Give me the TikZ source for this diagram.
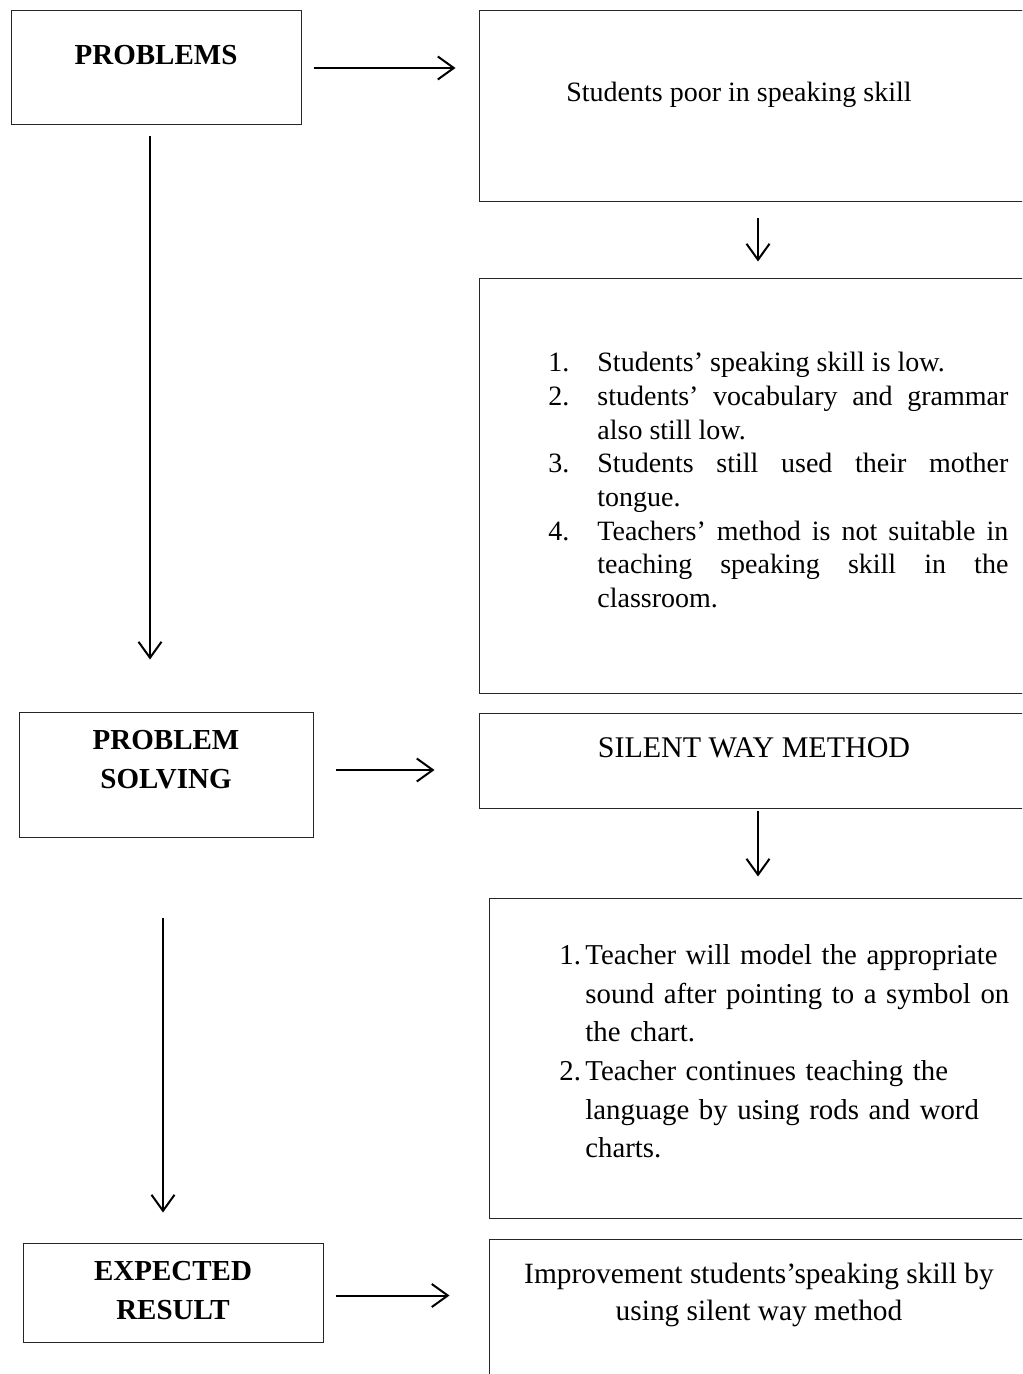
\documentclass[tikz,border=0pt]{standalone}
\usepackage{fontspec}
\setmainfont{Liberation Serif}
\usepackage{enumitem}
\usetikzlibrary{arrows.meta}
\tikzset{
  box/.style={draw=black!85,line width=0.5pt,inner sep=0pt},
  head/.style={font=\fontsize{14.5}{19.5}\selectfont\bfseries,align=center,inner sep=0pt},
  plain/.style={font=\fontsize{14}{18.5}\selectfont,align=center,inner sep=0pt},
  flow/.style={->,line width=1pt}
}
\begin{document}
\begin{tikzpicture}[x=0.5pt,y=-0.5pt,>={Straight Barb[length=8pt,width=11.5pt]}]
   \useasboundingbox (0,0) rectangle (1022,1374);
   \clip (0,0) rectangle (1022,1374);
   %boxes left
   \node[box,minimum width=145pt,minimum height=57pt] (prob) at (156,68) {};
   \node[box,minimum width=147pt,minimum height=62.5pt] (solve) at (166,774.5) {};
   \node[box,minimum width=150pt,minimum height=49.5pt] (result) at (173,1292.5) {};
   %boxes right
   \node[box,minimum width=279pt,minimum height=95.5pt] (poor) at (758,106.5) {};
   \node[box,minimum width=279pt,minimum height=207pt] (cause) at (758,486) {};
   \node[box,minimum width=279pt,minimum height=47.5pt] (silent) at (758,760.5) {};
   \node[box,minimum width=269pt,minimum height=160pt] (steps) at (758,1058) {};
   \node[box,minimum width=269pt,minimum height=90.5pt] (improve) at (758,1329.5) {};
   %headings
   \node[head,anchor=base] (probtext) at (156,65) {PROBLEMS};
   \node[head] (solvetext) at (166,760) {PROBLEM\\SOLVING};
   \node[head] (resulttext) at (173,1291) {EXPECTED\\RESULT};
   %texts
   \node[plain,anchor=base] (poortext) at (739,102) {Students poor in speaking skill};
   \node[plain,anchor=base,font=\fontsize{15}{18.5}\selectfont] (silenttext) at (754,757) {SILENT WAY METHOD};
   \node[plain,font=\fontsize{14.7}{18.5}\selectfont] (improvetext) at (759,1295) {Improvement students’speaking skill by\\using silent way method};
   %lists
   \node[inner sep=0pt,text width=230pt,align=justify,anchor=base west,
         font=\fontsize{14}{16.85}\selectfont] (causetext) at (548,338) {%
      \begin{enumerate}[nosep,leftmargin=24.5pt,labelwidth=12pt,labelsep=12.5pt,align=left]
      \item Students’ speaking skill is low.
      \item students’ vocabulary and grammar\linebreak also still low.
      \item Students still used their mother\linebreak tongue.
      \item Teachers’ method is not suitable in\linebreak teaching speaking skill in the\linebreak classroom.
      \end{enumerate}};
   \node[inner sep=0pt,text width=230pt,align=left,anchor=base west,
         font=\fontsize{14.4}{19.3}\selectfont] (stepstext) at (559,926) {%
      \begin{enumerate}[nosep,leftmargin=13pt,labelwidth=10.8pt,labelsep=2.2pt,align=left]
      \item Teacher will model the appropriate\\sound after pointing to a symbol on\\the chart.
      \item Teacher continues teaching the\\language by using rods and word\\charts.
      \end{enumerate}};
   %arrows
   \draw[flow,shorten <=6pt,shorten >=11.5pt] (prob.east) -- (prob.east -| poor.west);
   \draw[flow,shorten <=8pt,shorten >=8.5pt] (poor.south) -- (cause.north);
   \draw[flow,shorten <=5.5pt,shorten >=26pt] ([xshift=-3pt]prob.south) -- ([xshift=-3pt]prob.south |- solve.north);
   \draw[flow,shorten <=11pt,shorten >=22pt] ([yshift=2.25pt]solve.east) -- ([yshift=2.25pt]solve.east -| silent.west);
   \draw[flow,shorten <=1pt,shorten >=10.5pt] (silent.south) -- (steps.north);
   \draw[flow,shorten <=40pt,shorten >=15pt] ([xshift=-1.5pt]solve.south) -- ([xshift=-1.5pt]solve.south |- result.north);
   \draw[flow,shorten <=6pt,shorten >=19.5pt] ([yshift=-1.5pt]result.east) -- ([yshift=-1.5pt]result.east -| improve.west);
\end{tikzpicture}
\end{document}
